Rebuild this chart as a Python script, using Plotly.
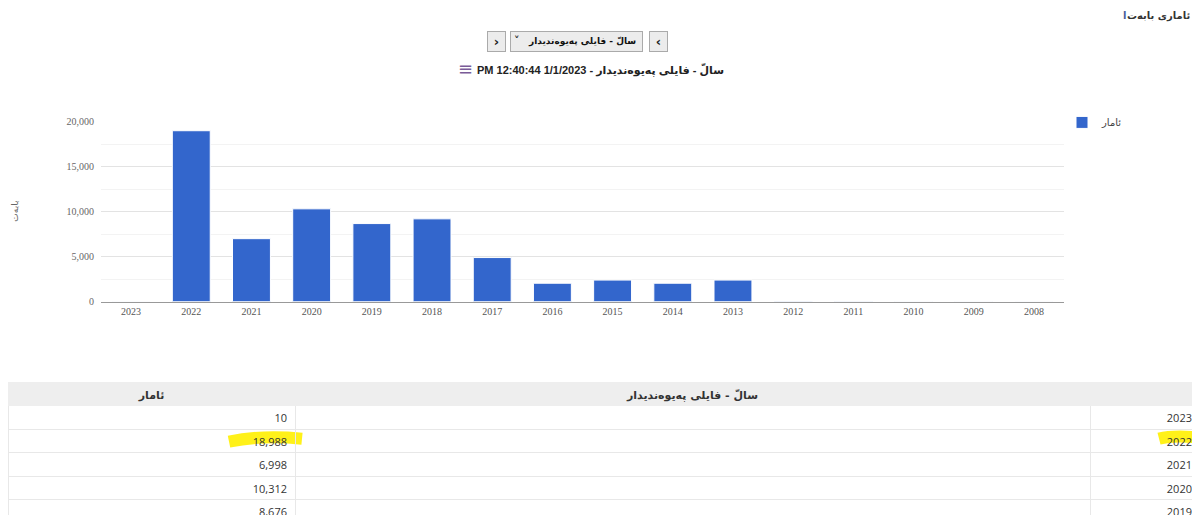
import plotly.graph_objects as go

W, H = 1192, 513
OFF = 8  # the page body has an 8px margin around the figure
RIGHT = 1192  # right-most page pixel that is still visible

# chart data
years = ["2023", "2022", "2021", "2020", "2019", "2018", "2017", "2016",
         "2015", "2014", "2013", "2012", "2011", "2010", "2009", "2008"]
counts = [10, 18988, 6998, 10312, 8676, 9200, 4900, 2050,
          2400, 2050, 2400, 60, 40, 25, 15, 12]
y_ticks = [0, 5000, 10000, 15000, 20000]

series_name = "ئامار"
axis_title = "بابەت"
category_title = "سالّ - فایلی پەیوەندیدار"
chart_title = "PM 12:40:44 1/1/2023 - " + category_title
page_title = "ئاماری بابەت"

# rows visible in the table below the chart
table_rows = 5


def px(x):
    # page pixel -> paper fraction
    return (x - OFF) / W


def py(y):
    return 1 - (y - OFF) / H


fig = go.Figure()

fig.add_trace(go.Bar(
    x=years,
    y=counts,
    name=series_name,
    marker=dict(color="#3366cc", line=dict(color="#ffffff", width=1)),
    width=0.63,
    xaxis="x",
    yaxis="y",
))

# data table
tbl_years = years[:table_rows]
tbl_counts = [f"{c:,}" for c in counts[:table_rows]]
fig.add_trace(go.Table(
    domain=dict(x=[px(8), px(1200)], y=[0, py(386)]),
    columnwidth=[287, 795, 110],
    header=dict(
        values=[series_name, category_title, ""],
        align=["center", "center", "right"],
        fill_color="#eeeeee",
        line_color="#eeeeee",
        font=dict(family="DejaVu Sans", size=11, color="#333333", weight="bold"),
        height=23,
    ),
    cells=dict(
        values=[tbl_counts, [""] * table_rows, tbl_years],
        align=["right", "right", "right"],
        fill_color="rgba(0,0,0,0)",
        line_color="#e8e8e8",
        font=dict(family="Open Sans, Arial", size=11, color="#333333"),
        height=23.5,
    ),
))

btn = dict(xref="paper", yref="paper", xanchor="center", yanchor="middle",
           showarrow=False, bgcolor="#ececec", bordercolor="#aaaaaa",
           borderwidth=1, borderpad=0)
txt = dict(xref="paper", yref="paper", yanchor="middle", showarrow=False)

annotations = [
    # page title (top right)
    dict(txt, x=px(RIGHT), y=py(11), xanchor="right",
         text="<b>" + page_title + "</b>",
         font=dict(family="DejaVu Sans", size=10, color="#333333")),
    dict(txt, x=px(1128), y=py(11), xanchor="right", text="<b>ا</b>",
         font=dict(family="DejaVu Sans", size=10, color="#4a5f9c")),
    # navigation buttons
    dict(btn, x=px(496.5), y=py(37.5), text="<b>›</b>", width=17, height=19,
         font=dict(family="DejaVu Sans", size=13, color="#222222")),
    dict(btn, x=px(576.5), y=py(37.5), text="", width=131, height=19,
         font=dict(family="DejaVu Sans", size=11, color="#222222")),
    dict(txt, x=px(638), y=py(37.5), xanchor="right", text="<b>" + category_title + "</b>",
         font=dict(family="DejaVu Sans", size=9, color="#111111")),
    dict(txt, x=px(517), y=py(36), xanchor="center", text="<b>˅</b>",
         font=dict(family="DejaVu Sans", size=11, color="#222222")),
    dict(btn, x=px(658), y=py(37.5), text="<b>‹</b>", width=17, height=19,
         font=dict(family="DejaVu Sans", size=13, color="#222222")),
    # chart title + menu icon
    dict(txt, x=px(600), y=py(66), xanchor="center",
         text="<b>" + chart_title + "</b>",
         font=dict(family="Liberation Sans, DejaVu Sans", size=11, color="#222222")),
    dict(txt, x=px(466), y=py(65), xanchor="center", text="≡",
         font=dict(family="DejaVu Sans", size=18, color="#7a5c99")),
    # y axis title
    dict(txt, x=px(15), y=py(211), xanchor="center", text=axis_title, textangle=-90,
         font=dict(family="DejaVu Sans", size=9, color="#666666")),
]

# hand-drawn highlighter marks on the table
shapes = [
    dict(type="path", xref="paper", yref="paper", layer="below",
         path=f"M {px(229)} {py(446)} Q {px(262)} {py(439)} {px(302)} {py(443)}",
         line=dict(color="rgba(255,240,0,0.9)", width=12)),
    dict(type="path", xref="paper", yref="paper", layer="below",
         path=f"M {px(1159)} {py(443)} Q {px(1174)} {py(439)} {px(1200)} {py(442)}",
         line=dict(color="rgba(255,240,0,0.9)", width=12)),
]

fig.update_layout(
    width=W,
    height=H,
    margin=dict(l=0, r=0, t=0, b=0),
    paper_bgcolor="#ffffff",
    plot_bgcolor="#ffffff",
    font=dict(family="Liberation Serif", size=10, color="#666666"),
    showlegend=True,
    legend=dict(x=px(1062), y=py(105), xanchor="left", yanchor="top",
                font=dict(family="DejaVu Sans", size=10, color="#444444"),
                bgcolor="rgba(0,0,0,0)"),
    xaxis=dict(
        domain=[px(101), px(1064)],
        type="category",
        showgrid=False,
        showline=True,
        linecolor="#999999",
        linewidth=1,
        ticks="",
        tickfont=dict(family="Liberation Serif", size=10, color="#555555"),
        fixedrange=True,
        anchor="y",
    ),
    yaxis=dict(
        domain=[py(303), py(119)],
        range=[0, 20000],
        tickvals=y_ticks,
        tickformat=",",
        showgrid=True,
        gridcolor="#e3e3e3",
        zeroline=False,
        ticks="",
        ticklabelstandoff=6,
        minor=dict(dtick=2500, showgrid=True, gridcolor="#f3f3f3"),
        tickfont=dict(family="Liberation Serif", size=10, color="#666666"),
        fixedrange=True,
        anchor="x",
    ),
    bargap=0.37,
    annotations=annotations,
    shapes=shapes,
)

fig.write_html("out.html")
